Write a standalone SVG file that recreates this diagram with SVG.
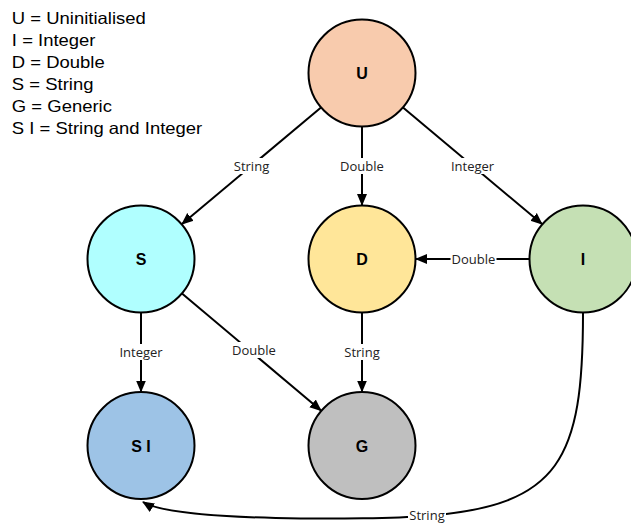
<svg xmlns="http://www.w3.org/2000/svg" width="631" height="524" viewBox="0 0 631 524">
<style>
.node{stroke:#000;stroke-width:2}
.nl{font-family:"Liberation Sans",Arial,sans-serif;font-size:16px;font-weight:bold;text-anchor:middle;fill:#000}
.edge{fill:none;stroke:#000;stroke-width:2}
.el{font-family:"Open Sans","DejaVu Sans",sans-serif;font-size:13px;text-anchor:middle;fill:#222}
.bg{fill:#fff}
.legend{font-family:"Liberation Sans",Arial,sans-serif;font-size:16.5px;fill:#000}
</style>
<defs>
<marker id="arr" markerUnits="userSpaceOnUse" markerWidth="12" markerHeight="12" viewBox="0 0 12 12" refX="11" refY="6" orient="auto">
<path d="M0,1 L12,6 L0,11 Z" fill="#000"/>
</marker>
</defs>
<rect width="631" height="524" fill="#fff"/>
<g id="legend" transform="scale(1.12,1)">
<text class="legend" x="10.6" y="24">U = Uninitialised</text>
<text class="legend" x="10.6" y="46">I = Integer</text>
<text class="legend" x="10.6" y="68">D = Double</text>
<text class="legend" x="10.6" y="90">S = String</text>
<text class="legend" x="10.6" y="112">G = Generic</text>
<text class="legend" x="10.6" y="134">S I = String and Integer</text>
</g>
<g id="connectors">
<path class="edge" d="M321,107.5 L182,224" marker-end="url(#arr)"/>
<path class="edge" d="M362,126.5 L362,205" marker-end="url(#arr)"/>
<path class="edge" d="M403,107.5 L542,224" marker-end="url(#arr)"/>
<path class="edge" d="M529.5,259 L416,259" marker-end="url(#arr)"/>
<path class="edge" d="M141,312.5 L141,391.5" marker-end="url(#arr)"/>
<path class="edge" d="M182,293.5 L321,410.5" marker-end="url(#arr)"/>
<path class="edge" d="M362,312.5 L362,391.5" marker-end="url(#arr)"/>
<path class="edge" d="M583,313 C583,460 560,505 427,516 C370,520 175,522 143,502" marker-end="url(#arr)"/>
<rect class="bg" x="232.5" y="158" width="38" height="16"/>
<text class="el" x="251.5" y="171">String</text>
<rect class="bg" x="339" y="158" width="46" height="16"/>
<text class="el" x="362" y="171">Double</text>
<rect class="bg" x="449.5" y="158" width="46" height="16"/>
<text class="el" x="472.5" y="171">Integer</text>
<rect class="bg" x="450.5" y="251" width="46" height="16"/>
<text class="el" x="473.5" y="264">Double</text>
<rect class="bg" x="118" y="344" width="46" height="16"/>
<text class="el" x="141" y="357">Integer</text>
<rect class="bg" x="231" y="342" width="46" height="16"/>
<text class="el" x="254" y="355">Double</text>
<rect class="bg" x="343" y="344" width="38" height="16"/>
<text class="el" x="362" y="357">String</text>
<rect class="bg" x="408" y="507" width="38" height="16"/>
<text class="el" x="427" y="519.5">String</text>
</g>
<g id="node-U">
<circle class="node" cx="362" cy="73" r="53.5" fill="#F8CBAD"/>
<text class="nl" x="362" y="79">U</text>
</g>
<g id="node-S">
<circle class="node" cx="141" cy="259" r="53.5" fill="#B0FFFF"/>
<text class="nl" x="141" y="265">S</text>
</g>
<g id="node-D">
<circle class="node" cx="362" cy="259" r="53.5" fill="#FFE699"/>
<text class="nl" x="362" y="265">D</text>
</g>
<g id="node-I">
<circle class="node" cx="583" cy="259" r="53.5" fill="#C5E0B4"/>
<text class="nl" x="583" y="265">I</text>
</g>
<g id="node-SI">
<circle class="node" cx="141" cy="445.5" r="53.5" fill="#9DC3E6"/>
<text class="nl" x="141" y="451.5">S I</text>
</g>
<g id="node-G">
<circle class="node" cx="362" cy="445.5" r="53.5" fill="#BFBFBF"/>
<text class="nl" x="362" y="451.5">G</text>
</g>
</svg>
